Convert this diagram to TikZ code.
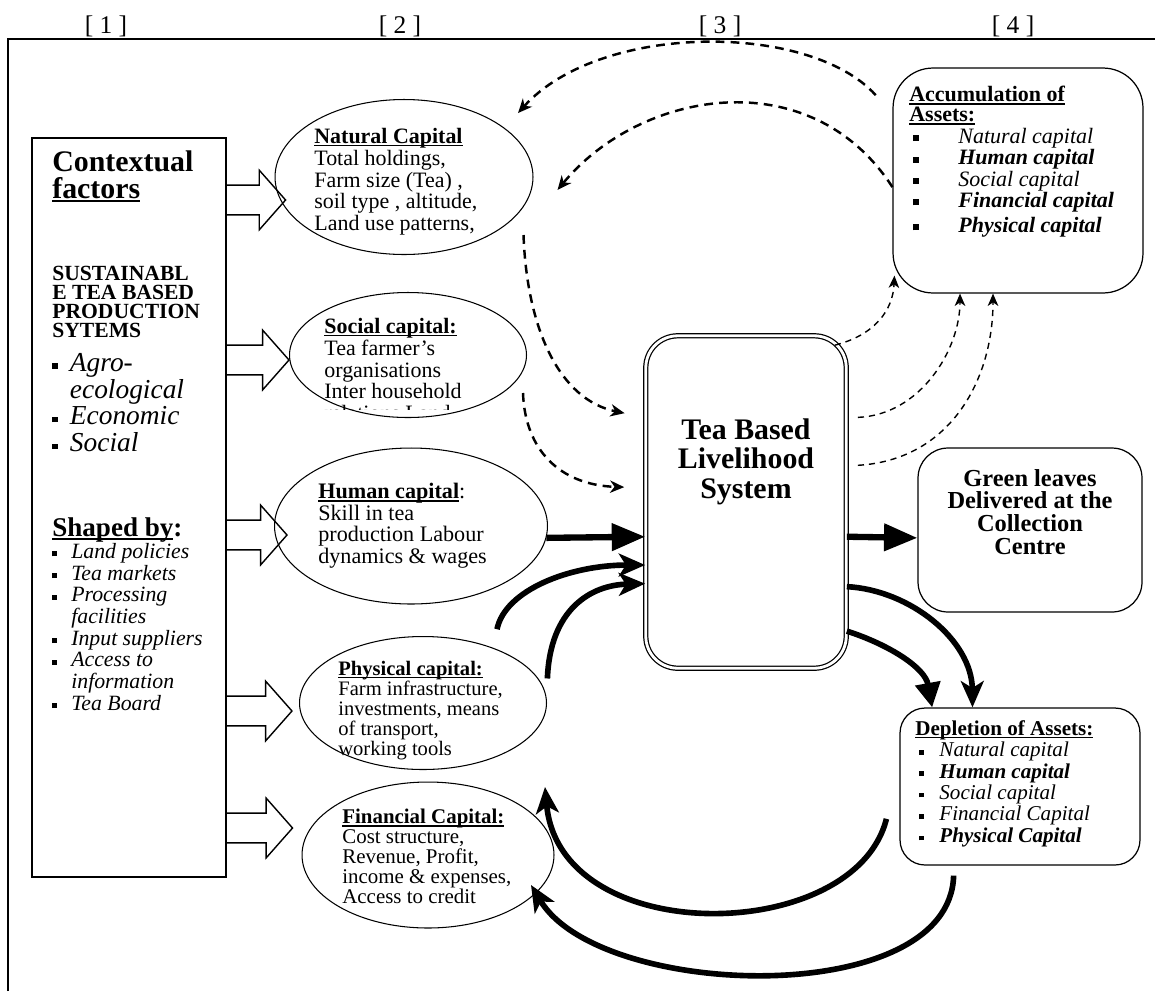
\documentclass[tikz,border=0pt]{standalone}
\usepackage{fontspec}
\setmainfont{Liberation Serif}
\usetikzlibrary{arrows.meta,shapes.geometric,calc}
\pgfdeclarelayer{back}
\pgfsetlayers{back,main}

\newcommand{\sqb}[1][3pt]{\rule[0.1em]{#1}{#1}}
\newcommand{\bul}[2][3pt]{\makebox[#2][l]{\sqb[#1]}}
\newcommand{\uline}[1]{\leavevmode\setbox0\hbox{#1}\rlap{\rule[-0.13em]{\wd0}{0.065em}}\box0}

\begin{document}
\begin{tikzpicture}[
    x=0.02cm, y=-0.02cm,
    capital/.style={draw, ellipse, line width=0.6pt, inner sep=0pt},
    framebox/.style={draw, rectangle, line width=0.7pt, inner sep=0pt},
    coresys/.style={draw, rectangle, rounded corners=0.64cm, double, double distance=1.6pt, line width=0.7pt, inner sep=0pt},
    txt/.style={anchor=north west, inner sep=0pt, align=left},
    blockarr/.style={draw, line width=0.8pt, fill=white, line join=miter},
    solidarr/.style={line width=3.6pt, -{Triangle[length=19pt,width=15pt]}},
    bendarr/.style={line width=3.2pt, -{Stealth[length=15pt,width=13pt,inset=4pt]}},
    droparr/.style={line width=3.2pt, -{Triangle[length=14pt,width=14pt]}},
    dasharr/.style={line width=1.4pt, dash pattern=on 5pt off 3.5pt, -{Stealth[length=8pt,width=7pt,inset=2.5pt]}},
    thindash/.style={line width=0.8pt, dash pattern=on 3.5pt off 2.8pt, -{Stealth[length=7pt,width=6pt,inset=2pt]}}
  ]
  \useasboundingbox (0,0) rectangle (1155,991);

  \foreach \lab/\xx in {1/106, 2/400, 3/720, 4/1013}
    \node[font=\fontsize{14.5}{16}\selectfont] (col\lab) at (\xx,26) {[ \lab{} ]};
  \draw[line width=0.9pt] (8,991) -- (8,39) -- (1155,39);

  % [1] context
  \node[framebox, minimum width=3.88cm, minimum height=14.78cm] (ctx) at (129,507.5) {};
  \node[txt, font=\fontsize{17}{15.6}\selectfont\bfseries] (ctxhead) at (52,150) {Contextual\\\uline{factors}};
  \node[txt, font=\fontsize{12.3}{10.8}\selectfont\bfseries] (ctxsys) at (52,266) {SUSTAINABL\\E TEA BASED\\PRODUCTION\\SYTEMS};
  \node[txt, font=\fontsize{15.6}{15.2}\selectfont\itshape] (ctxaims) at (52,353)
    {\bul{10pt}Agro-\\\hspace*{10pt}ecological\\\bul{10pt}Economic\\\bul{10pt}Social};
  \node[txt, font=\fontsize{15.4}{15}\selectfont\bfseries] (ctxshape) at (52,517) {\uline{Shaped by}:};
  \node[txt, font=\fontsize{12.4}{12.35}\selectfont\itshape] (ctxlist) at (52,543)
    {\bul[2.8pt]{10.8pt}Land policies\\
     \bul[2.8pt]{10.8pt}Tea markets\\
     \bul[2.8pt]{10.8pt}Processing\\
     \hspace*{10.8pt}facilities\\
     \bul[2.8pt]{10.8pt}Input suppliers\\
     \bul[2.8pt]{10.8pt}Access to\\
     \hspace*{10.8pt}information\\
     \bul[2.8pt]{10.8pt}Tea Board};

  % [2] capitals
  \node[capital, minimum width=5.16cm, minimum height=3.10cm] (natcap) at (404,177) {};
  \node[capital, minimum width=4.74cm, minimum height=2.50cm] (soccap) at (408,355) {};
  \node[capital, minimum width=5.46cm, minimum height=3.12cm] (humcap) at (411,526) {};
  \node[capital, minimum width=4.94cm, minimum height=2.66cm] (phycap) at (423,703) {};
  \node[capital, minimum width=5.04cm, minimum height=2.92cm] (fincap) at (428,855) {};

  \node[txt, font=\fontsize{12.5}{12.4}\selectfont] (nattext) at (314,128)
    {\textbf{\uline{Natural Capital}}\\Total holdings,\\Farm size (Tea) ,\\soil type , altitude,\\Land use patterns,};
  \begin{scope}
    \clip (300,300) rectangle (560,409);
    \node[txt, font=\fontsize{12.5}{12.4}\selectfont] (soctext) at (324,318)
      {\textbf{\uline{Social capital:}}\\Tea farmer’s\\organisations\\Inter household\\relations Land};
  \end{scope}
  \node[txt, font=\fontsize{12.6}{12.3}\selectfont] (humtext) at (318,483)
    {\textbf{\uline{Human capital}}:\\Skill in tea\\production Labour\\dynamics \& wages};
  \node[txt, font=\fontsize{11.7}{11.4}\selectfont] (phytext) at (338,661)
    {\textbf{\uline{Physical capital:}}\\Farm infrastructure,\\investments, means\\of transport,\\working tools};
  \node[txt, font=\fontsize{11.9}{11.4}\selectfont] (fintext) at (342,809)
    {\textbf{\uline{Financial Capital:}}\\Cost structure,\\Revenue, Profit,\\income \& expenses,\\Access to credit};

  % [3] livelihood system
  \node[coresys, minimum width=4.01cm, minimum height=6.65cm] (tbls) at (746,502) {};
  \node[anchor=north, inner sep=0pt, align=center, font=\fontsize{17}{17}\selectfont\bfseries] (tblstext) at (746,418)
    {Tea Based\\Livelihood\\System};

  % [4] outcomes
  \node[framebox, rounded corners=0.8cm, minimum width=5cm, minimum height=4.5cm] (accum) at (1018,180.5) {};
  \node[txt, font=\fontsize{12.5}{12.2}\selectfont] (accumtext) at (909,86)
    {\textbf{\uline{Accumulation of}}\\[-0.8pt]\textbf{\uline{Assets:}}\\
     \hspace*{2.3pt}\bul[3.4pt]{25.6pt}\textit{Natural capital}\\
     \hspace*{2.3pt}\bul[3.4pt]{25.6pt}\textbf{\textit{Human capital}}\\
     \hspace*{2.3pt}\bul[3.4pt]{25.6pt}\textit{Social capital}\\
     \hspace*{2.3pt}\bul[3.4pt]{25.6pt}\textbf{\textit{Financial capital}}\\[2pt]
     \hspace*{2.3pt}\bul[3.4pt]{25.6pt}\textbf{\textit{Physical capital}}};

  \node[framebox, rounded corners=0.6cm, minimum width=4.48cm, minimum height=3.28cm] (green) at (1030,530) {};
  \node[anchor=north, inner sep=0pt, align=center, font=\fontsize{13.9}{12.9}\selectfont\bfseries] (greentext) at (1030,469)
    {Green leaves\\Delivered at the\\Collection\\Centre};

  \node[framebox, rounded corners=0.5cm, minimum width=4.8cm, minimum height=3.14cm] (depl) at (1020,786.5) {};
  \node[txt, font=\fontsize{12}{12.2}\selectfont] (depltext) at (915,720)
    {\textbf{\uline{Depletion of Assets:}}\\
     \hspace*{2.3pt}\bul[2.6pt]{11.4pt}\textit{Natural capital}\\
     \hspace*{2.3pt}\bul[2.6pt]{11.4pt}\textbf{\textit{Human capital}}\\
     \hspace*{2.3pt}\bul[2.6pt]{11.4pt}\textit{Social capital}\\
     \hspace*{2.3pt}\bul[2.6pt]{11.4pt}\textit{Financial Capital}\\
     \hspace*{2.3pt}\bul[2.6pt]{11.4pt}\textbf{\textit{Physical Capital}}};

  % hollow arrows from the context box
  \begin{pgfonlayer}{back}
    \foreach \tgt/\yy/\dx in {natcap/200/6.3pt, soccap/360/0pt, humcap/535/7.4pt, phycap/711/-4pt, fincap/828/-5.1pt}{
      \coordinate (lvl) at (0,\yy);
      \draw[blockarr] let \p1=(ctx.east |- lvl), \p2=(\tgt.west |- lvl) in
        (\x1,{\y1+8.5pt}) -- ({\x2+(\dx)-15pt},{\y1+8.5pt}) -- ({\x2+(\dx)-15pt},{\y1+17pt})
        -- ({\x2+(\dx)},\y1) -- ({\x2+(\dx)-15pt},{\y1-17pt}) -- ({\x2+(\dx)-15pt},{\y1-8.5pt}) -- (\x1,{\y1-8.5pt});
    }
  \end{pgfonlayer}

  \draw[solidarr] (humcap.-5) -- (tbls.199);
  \draw[solidarr] (tbls.-19) -- (green.184);
  \draw[bendarr] ([shift={(0,-20)}]phycap.36) .. controls (505,590) and (570,565) .. (tbls.212);
  \draw[bendarr] ([shift={(9,0)}]phycap.12) .. controls (550,610) and (590,585) .. (tbls.219);
  \draw[bendarr] (tbls.-40) .. controls (910,590) and (972,640) .. (depl.121);
  \draw[droparr] (tbls.-52) .. controls (890,645) and (925,668) .. (depl.138);

  \coordinate (phyret) at ([shift={(122,84)}]phycap.center);
  \coordinate (finret) at ([shift={(103,30)}]fincap.center);
  \draw[bendarr] ([shift={(-13,0)}]depl.195) .. controls (855,945) and (560,950) .. (phyret);
  \draw[bendarr] ([shift={(0,10)}]depl.230) .. controls (950,1010) and (600,1000) .. (finret);

  \coordinate (natret) at ([shift={(24,13)}]natcap.east);
  \draw[dasharr, shorten <=0.5cm, shorten >=0.4cm] (accum.152) .. controls (810,22) and (600,22) .. (natcap.26);
  \draw[dasharr] (accum.183) .. controls (810,60) and (640,90) .. (natret);
  \draw[dasharr, shorten >=0.42cm] ([shift={(-10,58)}]natcap.east) .. controls (527,330) and (560,400) .. (tbls.140);
  \draw[dasharr, shorten >=0.42cm] ([shift={(-4,38)}]soccap.east) .. controls (525,450) and (560,485) .. (tbls.172);
  \draw[thindash] ([shift={(-12,10)}]tbls.north east) .. controls (875,335) and (893,310) .. ([shift={(2,-18)}]accum.south west);
  \draw[thindash] ([shift={(11,0)}]tbls.40) .. controls (920,415) and (960,350) .. ([shift={(-58,0)}]accum.south);
  \draw[thindash] ([shift={(11,0)}]tbls.20) .. controls (950,460) and (993,380) .. ([shift={(-25,0)}]accum.south);

\end{tikzpicture}
\end{document}
